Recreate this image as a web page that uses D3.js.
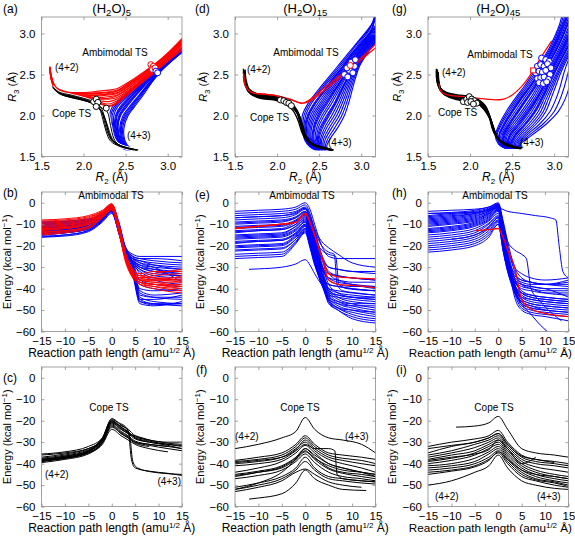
<!DOCTYPE html>
<html><head><meta charset="utf-8">
<script src="https://cdn.jsdelivr.net/npm/d3@7"></script>
<style>body{margin:0;background:#fff} svg{display:block} text{font-family:"Liberation Sans",Arial,sans-serif;fill:#000}</style>
</head><body><svg id="c" width="575" height="536"></svg>
<script>
// ---------------- tick labels ----------------
const R_TICKS = [1.5, 2.0, 2.5, 3.0];
const PATH_TICKS = [-15, -10, -5, 0, 5, 10, 15];
const ENERGY_TICKS = [0, -10, -20, -30, -40, -50, -60];
const PANEL_LABELS = ["(a)", "(b)", "(c)", "(d)", "(e)", "(f)", "(g)", "(h)", "(i)"];
const CLUSTER_SIZES = ["5", "15", "45"];

// ---------------- (a) (H2O)5 : R3 vs R2 ----------------
const A_RED_R2 = [1.6, 1.62, 1.67, 1.8, 2.0, 2.2, 2.3, 2.4, 2.6, 2.85, 3.0, 3.2];
const A_RED_R3 = [
 [2.60,2.47,2.35,2.29,2.28,2.30,2.31,2.33,2.45,2.63,2.76,2.97],
 [2.59,2.46,2.34,2.28,2.27,2.28,2.29,2.31,2.43,2.62,2.75,2.95],
 [2.59,2.46,2.34,2.28,2.27,2.27,2.28,2.30,2.42,2.61,2.74,2.94],
 [2.58,2.45,2.34,2.28,2.26,2.26,2.26,2.28,2.41,2.60,2.73,2.93],
 [2.58,2.45,2.33,2.27,2.25,2.24,2.25,2.27,2.40,2.59,2.72,2.92],
 [2.57,2.44,2.33,2.27,2.24,2.22,2.23,2.25,2.38,2.58,2.71,2.91],
 [2.57,2.44,2.32,2.26,2.23,2.20,2.20,2.22,2.36,2.57,2.70,2.89],
 [2.56,2.43,2.32,2.26,2.22,2.18,2.17,2.20,2.35,2.56,2.69,2.88],
 [2.56,2.43,2.31,2.25,2.21,2.16,2.14,2.18,2.34,2.55,2.68,2.86],
 [2.55,2.42,2.31,2.25,2.20,2.15,2.12,2.16,2.33,2.54,2.67,2.84],
 [2.55,2.42,2.30,2.24,2.19,2.14,2.11,2.15,2.32,2.53,2.66,2.82],
 [2.58,2.45,2.33,2.27,2.25,2.25,2.27,2.30,2.44,2.62,2.76,2.96],
 [2.57,2.44,2.32,2.26,2.23,2.21,2.21,2.24,2.38,2.58,2.72,2.90]
];
const A_BLUE_R3 = [1.58, 1.62, 1.7, 1.85, 2.0, 2.1, 2.25, 2.4, 2.55, 2.7, 2.85, 3.0];
const A_BLUE_R2 = [
 [2.50,2.44,2.37,2.33,2.31,2.34,2.50,2.67,2.85,3.02,3.20,3.35],
 [2.51,2.445,2.38,2.34,2.325,2.36,2.515,2.68,2.855,3.025,3.205,3.355],
 [2.52,2.45,2.39,2.35,2.34,2.38,2.53,2.69,2.86,3.03,3.21,3.36],
 [2.53,2.46,2.40,2.36,2.36,2.40,2.55,2.70,2.86,3.03,3.21,3.36],
 [2.54,2.47,2.41,2.37,2.38,2.43,2.57,2.71,2.87,3.04,3.22,3.37],
 [2.545,2.475,2.415,2.38,2.39,2.445,2.58,2.72,2.875,3.045,3.225,3.375],
 [2.55,2.48,2.42,2.39,2.40,2.46,2.59,2.73,2.88,3.05,3.23,3.38],
 [2.56,2.49,2.43,2.40,2.42,2.48,2.61,2.74,2.89,3.06,3.24,3.39],
 [2.565,2.495,2.435,2.405,2.43,2.495,2.62,2.75,2.895,3.06,3.24,3.39],
 [2.57,2.50,2.44,2.41,2.44,2.51,2.63,2.76,2.90,3.06,3.24,3.39],
 [2.58,2.51,2.45,2.43,2.47,2.54,2.66,2.78,2.91,3.07,3.25,3.40],
 [2.59,2.515,2.46,2.44,2.485,2.555,2.67,2.785,2.915,3.075,3.255,3.405],
 [2.60,2.52,2.47,2.45,2.50,2.57,2.68,2.79,2.92,3.08,3.26,3.41],
 [2.61,2.53,2.48,2.465,2.515,2.585,2.695,2.80,2.925,3.085,3.265,3.415],
 [2.62,2.54,2.49,2.48,2.53,2.60,2.71,2.81,2.93,3.09,3.27,3.42]
];
const A_BLACK = [
 [[1.63,2.36],[1.70,2.29],[1.85,2.25],[2.00,2.21],[2.12,2.17],[2.20,2.11],[2.25,1.98],[2.29,1.82],[2.34,1.70],[2.45,1.63],[2.62,1.58]],
 [[1.63,2.35],[1.70,2.28],[1.85,2.24],[2.00,2.20],[2.12,2.15],[2.19,2.08],[2.23,1.95],[2.27,1.80],[2.32,1.69],[2.44,1.62],[2.60,1.58]],
 [[1.64,2.34],[1.72,2.27],[1.87,2.23],[2.02,2.19],[2.14,2.14],[2.21,2.06],[2.25,1.92],[2.29,1.78],[2.35,1.68],[2.47,1.62],[2.63,1.58]],
 [[1.64,2.33],[1.72,2.26],[1.88,2.22],[2.03,2.18],[2.15,2.12],[2.22,2.04],[2.27,1.90],[2.31,1.76],[2.37,1.67],[2.48,1.61],[2.64,1.58]],
 [[1.65,2.32],[1.75,2.25],[1.90,2.21],[2.05,2.17],[2.17,2.10],[2.24,2.00],[2.29,1.86],[2.33,1.74],[2.39,1.66],[2.50,1.61],[2.64,1.58]],
 [[1.66,2.31],[1.78,2.24],[1.93,2.20],[2.08,2.16],[2.20,2.10],[2.28,2.05],[2.32,1.88],[2.36,1.72],[2.41,1.65],[2.52,1.61],[2.65,1.58]]
];
const A_COPE_R2 = [2.12, 2.15, 2.17, 2.15, 2.27];
const A_COPE_R3 = [2.17, 2.20, 2.16, 2.11, 2.09];
const A_AMB_RED_R2 = [2.80, 2.83, 2.82, 2.85];
const A_AMB_RED_R3 = [2.62, 2.60, 2.56, 2.58];
const A_AMB_BLUE_R2 = [2.86, 2.88];
const A_AMB_BLUE_R3 = [2.54, 2.52];

// ---------------- (d) (H2O)15 : R3 vs R2 ----------------
const D_BLACK = [
 [[1.60,2.57],[1.61,2.45],[1.65,2.33],[1.75,2.27],[1.90,2.25],[2.05,2.21],[2.15,2.16],[2.22,2.08],[2.27,1.93],[2.31,1.79],[2.37,1.69],[2.49,1.62],[2.64,1.58]],
 [[1.61,2.55],[1.62,2.43],[1.66,2.31],[1.76,2.25],[1.91,2.23],[2.06,2.19],[2.16,2.14],[2.23,2.06],[2.28,1.91],[2.32,1.77],[2.38,1.68],[2.50,1.62],[2.65,1.58]],
 [[1.60,2.53],[1.62,2.41],[1.67,2.30],[1.78,2.24],[1.93,2.22],[2.08,2.18],[2.18,2.12],[2.25,2.03],[2.30,1.88],[2.34,1.75],[2.40,1.67],[2.52,1.61],[2.66,1.58]],
 [[1.62,2.52],[1.63,2.40],[1.68,2.29],[1.80,2.23],[1.95,2.21],[2.10,2.17],[2.19,2.11],[2.26,2.01],[2.31,1.86],[2.35,1.73],[2.41,1.66],[2.53,1.61],[2.66,1.58]],
 [[1.61,2.50],[1.63,2.38],[1.69,2.28],[1.82,2.22],[1.97,2.20],[2.11,2.15],[2.20,2.08],[2.27,1.97],[2.31,1.83],[2.36,1.72],[2.43,1.65],[2.55,1.61],[2.67,1.58]],
 [[1.60,2.48],[1.62,2.37],[1.68,2.27],[1.80,2.21],[1.96,2.19],[2.10,2.14],[2.19,2.06],[2.25,1.94],[2.29,1.81],[2.34,1.71],[2.42,1.64],[2.54,1.60],[2.67,1.58]],
 [[1.62,2.56],[1.63,2.44],[1.67,2.32],[1.77,2.26],[1.92,2.24],[2.07,2.20],[2.17,2.15],[2.24,2.06],[2.29,1.90],[2.33,1.76],[2.39,1.67],[2.51,1.62],[2.65,1.59]],
 [[1.61,2.52],[1.62,2.40],[1.66,2.29],[1.79,2.22],[1.94,2.20],[2.09,2.16],[2.19,2.10],[2.26,1.99],[2.30,1.85],[2.35,1.74],[2.41,1.66],[2.53,1.61],[2.66,1.58]]
];
const D_RED = [
 [[1.60,2.52],[1.63,2.35],[1.70,2.28],[1.85,2.26],[2.00,2.24],[2.15,2.20],[2.30,2.15],[2.40,2.18],[2.55,2.30],[2.70,2.42],[2.85,2.55],[3.00,2.68],[3.20,2.85]],
 [[1.60,2.52],[1.63,2.35],[1.70,2.28],[1.85,2.26],[2.00,2.24],[2.15,2.20],[2.30,2.15],[2.40,2.20],[2.55,2.33],[2.70,2.45],[2.88,2.60],[3.05,2.75],[3.20,2.90]]
];
const D_BLUE_R3 = [1.58, 1.62, 1.7, 1.85, 2.0, 2.15, 2.3, 2.45, 2.6, 2.75, 2.9, 3.05, 3.25];
const D_BLUE_R2 = [
 [2.46,2.39,2.33,2.30,2.30,2.37,2.48,2.60,2.72,2.84,2.96,3.08,3.22],
 [2.47,2.40,2.34,2.31,2.32,2.39,2.50,2.62,2.74,2.86,2.97,3.09,3.20],
 [2.48,2.41,2.35,2.32,2.34,2.41,2.52,2.64,2.76,2.88,2.99,3.10,3.17],
 [2.49,2.42,2.36,2.33,2.36,2.44,2.55,2.66,2.78,2.89,3.01,3.12,3.17],
 [2.495,2.425,2.365,2.34,2.37,2.45,2.56,2.67,2.785,2.895,3.015,3.125,3.17],
 [2.50,2.43,2.37,2.35,2.38,2.46,2.57,2.68,2.79,2.90,3.02,3.13,3.17],
 [2.505,2.435,2.38,2.365,2.40,2.485,2.59,2.695,2.805,2.915,3.03,3.14,3.25],
 [2.51,2.44,2.39,2.38,2.42,2.51,2.61,2.71,2.82,2.93,3.04,3.15,3.30],
 [2.515,2.45,2.40,2.395,2.44,2.53,2.63,2.73,2.835,2.94,3.05,3.16,3.28],
 [2.52,2.46,2.41,2.41,2.46,2.55,2.65,2.75,2.85,2.95,3.06,3.17,3.17],
 [2.53,2.47,2.42,2.43,2.48,2.57,2.67,2.77,2.86,2.96,3.07,3.18,3.30],
 [2.535,2.475,2.43,2.44,2.495,2.585,2.68,2.775,2.865,2.965,3.075,3.185,3.33],
 [2.54,2.48,2.44,2.45,2.51,2.60,2.69,2.78,2.87,2.97,3.08,3.19,3.35],
 [2.545,2.49,2.455,2.47,2.535,2.625,2.71,2.795,2.885,2.98,3.09,3.20,3.35],
 [2.55,2.50,2.47,2.49,2.56,2.65,2.73,2.81,2.90,2.99,3.10,3.21,3.35],
 [2.56,2.51,2.48,2.51,2.59,2.68,2.75,2.83,2.91,3.00,3.11,3.22,3.36],
 [2.565,2.515,2.49,2.525,2.605,2.69,2.76,2.835,2.915,3.005,3.115,3.225,3.37],
 [2.57,2.52,2.50,2.54,2.62,2.70,2.77,2.84,2.92,3.01,3.12,3.23,3.38],
 [2.575,2.53,2.515,2.565,2.65,2.725,2.79,2.855,2.93,3.02,3.13,3.24,3.39],
 [2.58,2.54,2.53,2.59,2.68,2.75,2.81,2.87,2.94,3.03,3.14,3.25,3.40],
 [2.59,2.55,2.55,2.62,2.71,2.775,2.83,2.885,2.95,3.04,3.15,3.26,3.41],
 [2.60,2.56,2.57,2.65,2.74,2.80,2.85,2.90,2.96,3.05,3.16,3.27,3.42],
 [2.61,2.575,2.595,2.685,2.77,2.825,2.87,2.915,2.97,3.06,3.17,3.28,3.43],
 [2.62,2.59,2.62,2.72,2.80,2.85,2.89,2.93,2.98,3.07,3.18,3.29,3.44]
];
const D_COPE_R2 = [2.04, 2.08, 2.11, 2.14, 2.17];
const D_COPE_R3 = [2.19, 2.18, 2.16, 2.15, 2.12];
const D_AMB_BLUE_R2 = [2.80, 2.84, 2.86, 2.90, 2.92, 2.83, 2.88, 2.93];
const D_AMB_BLUE_R3 = [2.50, 2.47, 2.55, 2.52, 2.60, 2.58, 2.65, 2.68];
const D_AMB_RED_R2 = [2.87];
const D_AMB_RED_R3 = [2.61];

// ---------------- (g) (H2O)45 : R3 vs R2 ----------------
const G_BLACK = [
 [[1.60,2.57],[1.61,2.45],[1.64,2.34],[1.72,2.28],[1.85,2.25],[2.00,2.23],[2.10,2.19],[2.18,2.12],[2.23,1.98],[2.27,1.83],[2.33,1.72],[2.44,1.65],[2.58,1.61]],
 [[1.61,2.56],[1.62,2.44],[1.65,2.33],[1.73,2.27],[1.86,2.24],[2.01,2.22],[2.11,2.18],[2.19,2.10],[2.24,1.96],[2.28,1.81],[2.34,1.71],[2.45,1.64],[2.58,1.60]],
 [[1.60,2.54],[1.61,2.42],[1.65,2.31],[1.74,2.26],[1.87,2.23],[2.02,2.21],[2.12,2.16],[2.20,2.07],[2.25,1.93],[2.29,1.79],[2.35,1.70],[2.46,1.64],[2.59,1.60]],
 [[1.62,2.53],[1.63,2.41],[1.66,2.30],[1.75,2.25],[1.88,2.22],[2.03,2.20],[2.13,2.15],[2.21,2.05],[2.26,1.90],[2.30,1.77],[2.36,1.69],[2.47,1.63],[2.59,1.60]],
 [[1.61,2.51],[1.62,2.39],[1.66,2.29],[1.76,2.24],[1.89,2.21],[2.04,2.19],[2.14,2.13],[2.22,2.02],[2.27,1.87],[2.31,1.75],[2.37,1.68],[2.48,1.63],[2.60,1.60]],
 [[1.60,2.49],[1.62,2.37],[1.67,2.28],[1.77,2.23],[1.90,2.20],[2.05,2.18],[2.15,2.11],[2.23,1.99],[2.28,1.84],[2.32,1.73],[2.38,1.67],[2.49,1.62],[2.60,1.60]],
 [[1.62,2.48],[1.63,2.36],[1.68,2.27],[1.78,2.22],[1.91,2.19],[2.06,2.17],[2.16,2.09],[2.24,1.96],[2.29,1.81],[2.33,1.72],[2.39,1.66],[2.50,1.62],[2.61,1.60]],
 [[1.61,2.46],[1.63,2.35],[1.69,2.26],[1.79,2.21],[1.92,2.18],[2.07,2.16],[2.17,2.07],[2.25,1.93],[2.30,1.79],[2.34,1.71],[2.40,1.65],[2.51,1.62],[2.61,1.60]]
];
const G_RED = [
 [[1.63,2.39],[1.65,2.30],[1.70,2.26],[1.80,2.24],[1.95,2.23],[2.10,2.21],[2.20,2.20],[2.30,2.19],[2.40,2.20],[2.50,2.25],[2.60,2.34],[2.68,2.44],[2.75,2.55],[2.85,2.72],[2.97,2.91]]
];
const G_BLUE_R3 = [1.6, 1.65, 1.75, 1.9, 2.05, 2.2, 2.35, 2.5, 2.65, 2.8, 2.95, 3.1, 3.25];
const G_BLUE_R2 = [
 [2.42,2.34,2.30,2.35,2.43,2.53,2.64,2.74,2.84,2.93,3.00,3.06,3.10],
 [2.43,2.35,2.31,2.365,2.45,2.55,2.66,2.76,2.855,2.945,3.015,3.075,3.12],
 [2.44,2.36,2.32,2.38,2.47,2.57,2.68,2.78,2.87,2.96,3.03,3.09,3.14],
 [2.45,2.37,2.34,2.40,2.49,2.59,2.70,2.80,2.89,2.97,3.04,3.10,3.16],
 [2.455,2.375,2.345,2.41,2.50,2.60,2.71,2.81,2.90,2.98,3.05,3.11,3.17],
 [2.46,2.38,2.35,2.42,2.51,2.61,2.72,2.82,2.91,2.99,3.06,3.12,3.18],
 [2.47,2.39,2.365,2.44,2.535,2.635,2.74,2.835,2.925,3.005,3.075,3.135,3.195],
 [2.48,2.40,2.38,2.46,2.56,2.66,2.76,2.85,2.94,3.02,3.09,3.15,3.21],
 [2.485,2.405,2.39,2.47,2.57,2.67,2.77,2.86,2.945,3.025,3.095,3.155,3.215],
 [2.49,2.41,2.40,2.48,2.58,2.68,2.78,2.87,2.95,3.03,3.10,3.16,3.22],
 [2.50,2.42,2.41,2.50,2.61,2.71,2.80,2.89,2.97,3.05,3.12,3.18,3.24],
 [2.505,2.43,2.425,2.525,2.635,2.735,2.82,2.905,2.985,3.065,3.135,3.195,3.255],
 [2.51,2.44,2.44,2.55,2.66,2.76,2.84,2.92,3.00,3.08,3.15,3.21,3.27],
 [2.52,2.45,2.46,2.57,2.68,2.78,2.86,2.93,3.01,3.09,3.16,3.22,3.28],
 [2.525,2.455,2.47,2.585,2.695,2.79,2.87,2.94,3.02,3.10,3.17,3.23,3.29],
 [2.53,2.46,2.48,2.60,2.71,2.80,2.88,2.95,3.03,3.11,3.18,3.24,3.30],
 [2.535,2.47,2.50,2.625,2.735,2.82,2.895,2.965,3.045,3.125,3.195,3.255,3.315],
 [2.54,2.48,2.52,2.65,2.76,2.84,2.91,2.98,3.06,3.14,3.21,3.27,3.33],
 [2.545,2.49,2.53,2.66,2.77,2.85,2.92,2.99,3.065,3.145,3.215,3.275,3.335],
 [2.55,2.50,2.54,2.67,2.78,2.86,2.93,3.00,3.07,3.15,3.22,3.28,3.34],
 [2.56,2.51,2.56,2.70,2.81,2.88,2.95,3.02,3.09,3.17,3.24,3.30,3.36],
 [2.57,2.525,2.585,2.73,2.84,2.905,2.97,3.035,3.105,3.185,3.255,3.315,3.375],
 [2.58,2.54,2.61,2.76,2.87,2.93,2.99,3.05,3.12,3.20,3.27,3.33,3.39],
 [2.59,2.555,2.635,2.79,2.90,2.96,3.015,3.07,3.135,3.215,3.285,3.345,3.405],
 [2.60,2.57,2.66,2.83,2.95,3.02,3.07,3.11,3.16,3.23,3.30,3.36,3.42],
 [2.61,2.585,2.69,2.87,3.00,3.07,3.12,3.16,3.20,3.26,3.32,3.38,3.43],
 [2.62,2.60,2.72,2.91,3.05,3.13,3.18,3.22,3.25,3.29,3.34,3.40,3.44]
];
const G_COPE_R2 = [1.92, 1.96, 1.99, 2.02, 2.05, 2.08, 1.97, 2.01, 2.04];
const G_COPE_R3 = [2.17, 2.20, 2.23, 2.20, 2.18, 2.15, 2.16, 2.17, 2.14];
const G_AMB_BLUE_R2 = [2.85,2.90,2.94,2.80,2.84,2.88,2.92,2.96,2.78,2.82,2.86,2.90,2.95,2.80,2.84,2.88,2.93,2.82,2.87,2.91];
const G_AMB_BLUE_R3 = [2.70,2.68,2.66,2.60,2.62,2.60,2.63,2.58,2.52,2.54,2.53,2.55,2.50,2.45,2.46,2.47,2.44,2.40,2.39,2.41];
const G_AMB_RED_R2 = [2.75];
const G_AMB_RED_R3 = [2.55];

// ---------------- (b) energies, (H2O)5 ----------------
const B_X = [-15, -10, -5, -2, 0, 1.5, 3, 4.5, 6, 9, 15];
const B_BLUE = [
 [-9,-8.5,-7.5,-5,-1,-9,-21,-24,-25,-25,-25],
 [-10,-9.5,-8,-5.5,-2,-10,-22,-25,-26,-27,-28],
 [-11,-10.5,-9,-6,-2.5,-11,-22,-26,-28,-29,-30],
 [-12,-11,-9.5,-6.5,-3,-12,-23,-27,-29,-30,-31],
 [-13,-12,-10,-7,-3,-12,-23,-27,-30,-31,-32],
 [-14,-13,-11,-7.5,-3.5,-13,-24,-28,-31,-33,-34],
 [-15,-14,-12,-8,-4,-13,-24,-28,-31,-34,-35],
 [-16,-15,-13,-8.5,-4.5,-14,-25,-29,-32,-35,-36],
 [-12.5,-12,-10.5,-7,-3,-12,-22,-26,-30,-32,-33],
 [-10.5,-10,-8.5,-5.5,-2,-11,-21,-25,-28,-30,-37],
 [-9.5,-9,-8,-5,-1.5,-9,-22,-28,-42,-44,-45],
 [-11,-10.5,-9,-6,-2,-10,-23,-30,-44,-46,-47],
 [-12,-11.5,-10,-6.5,-2.5,-11,-24,-31,-45,-47,-47],
 [-13.5,-13,-11,-7,-3,-12,-24,-32,-46,-47,-48],
 [-14.5,-14,-12,-8,-3.5,-13,-25,-33,-46,-47.5,-47],
 [-15.5,-15,-13,-8.5,-4,-14,-26,-34,-47,-48,-46],
 [-10,-9.5,-8.5,-5.5,-2,-10,-23,-29,-41,-43,-42],
 [-12,-11.5,-10,-6.5,-3,-12,-24,-31,-40,-41,-40],
 [-13,-12.5,-11,-7,-3,-12,-25,-30,-43,-44,-44],
 [-14,-13.5,-12,-7.5,-3.5,-13,-25,-32,-38,-40,-41],
 [-15,-14,-12.5,-8,-4,-14,-26,-33,-45,-45,-43],
 [-11.5,-11,-9.5,-6,-2.5,-11,-23,-28,-36,-38,-39],
 [-9,-8.8,-7.8,-5,-1.5,-10,-21,-25,-26,-26,-27],
 [-13,-12.5,-10.5,-7,-3.5,-13,-23,-26,-27,-28,-29],
 [-14.5,-13.5,-11.5,-7.5,-4,-13,-24,-27,-29,-31,-33],
 [-16,-15.5,-13.5,-9,-5,-14,-25,-28,-30,-32,-34],
 [-10,-9.5,-8.5,-6,-2.5,-11,-22,-26,-27,-29,-31],
 [-12,-11,-9,-6,-2,-11,-22,-27,-33,-36,-38]
];
const B_RED = [
 [-8,-7.5,-6,-3.5,-0.5,-10,-24,-31,-34,-33,-31],
 [-9,-8.5,-7,-4,-1,-11,-25,-32,-35,-34,-33],
 [-10,-9.5,-8,-4.5,-1.5,-11,-25,-32,-35,-35,-35],
 [-11,-10.5,-8.5,-5,-2,-12,-26,-33,-36,-36,-36],
 [-12,-11.5,-9.5,-5.5,-2,-12,-26,-33,-36,-37,-37],
 [-13,-12,-10,-6,-2.5,-13,-27,-34,-37,-38,-38],
 [-14,-13,-11,-6.5,-3,-13,-27,-34,-37,-38,-39],
 [-15,-14,-12,-7,-3.5,-14,-28,-35,-38,-39,-40],
 [-9.5,-9,-7.5,-4.5,-1,-10,-24,-31,-34,-35,-36],
 [-11.5,-11,-9,-5,-1.5,-11,-25,-33,-36,-37,-39],
 [-12.5,-12,-10,-6,-2,-12,-26,-34,-37,-39,-41],
 [-13.5,-13,-11,-6.5,-3,-13,-27,-35,-38,-40,-42],
 [-10.5,-10,-8.5,-5,-1.5,-11,-25,-32,-35,-36,-34],
 [-14.5,-13.5,-11.5,-7,-3,-13,-26,-33,-36,-36,-37],
 [-8.5,-8,-6.5,-4,-0.5,-10,-24,-31,-33,-32,-32],
 [-12,-11.5,-9.5,-5.5,-2,-12,-26,-34,-37,-38,-40]
];

// ---------------- (e) energies, (H2O)15 ----------------
const E_X = [-15, -10, -5, -2, 0, 1, 2, 3.5, 5, 7, 10, 15];
const E_BLUE = [
 [-4,-3.5,-3,-2,0,-3,-10,-20,-25,-26,-26,-26],
 [-6,-5.5,-5,-4,-2,-6,-13,-24,-30,-31,-32,-33],
 [-8,-7.5,-7,-5.5,-3,-8,-15,-26,-33,-36,-38,-40],
 [-9,-8.5,-8,-6.5,-4,-9,-16,-28,-38,-42,-44,-45],
 [-10,-9.5,-9,-7,-4.5,-10,-18,-30,-40,-44,-46,-47],
 [-11,-10.5,-10,-8,-5,-11,-19,-31,-41,-45,-47,-49],
 [-13,-12.5,-12,-9,-6,-12,-20,-32,-42,-46,-48,-50],
 [-14,-13,-12.5,-10,-7,-13,-21,-33,-43,-47,-49,-51],
 [-15,-14.5,-14,-11,-8,-14,-22,-34,-44,-48,-50,-52],
 [-16,-15.5,-15,-12,-8.5,-15,-23,-35,-45,-49,-52,-54],
 [-17,-16.5,-16,-13,-9,-15,-24,-36,-46,-50,-53,-55],
 [-18,-17.5,-17,-14,-10,-16,-25,-36,-47,-50,-54,-56],
 [-19,-18,-17.5,-14.5,-10.5,-17,-26,-37,-45,-47,-48,-48],
 [-20,-19.5,-19,-15,-11,-18,-26,-37,-44,-46,-47,-47],
 [-21,-20.5,-20,-16,-12,-18,-27,-38,-43,-44,-45,-46],
 [-22,-21.5,-21,-17,-12.5,-19,-28,-38,-42,-43,-44,-44],
 [-24,-23.5,-23,-18,-13,-20,-28,-37,-40,-41,-42,-43],
 [-26,-25.5,-25,-19,-14,-21,-29,-36,-38,-39,-40,-41],
 [-5,-4.5,-4,-3,-1,-5,-12,-18,-21,-24,-28,-30],
 [-15.5,-15,-14.5,-11,-7.5,-13,-19,-26,-30,-31,-32,-32],
 [-18.5,-18,-17.5,-14,-10,-16,-23,-30,-33,-34,-35,-36],
 [-20.5,-20,-19.5,-15.5,-11,-17,-24,-31,-35,-37,-38,-39],
 [-13.5,-13,-12.5,-10,-6.5,-12,-20,-33,-38,-39,-40,-41],
 [-16.5,-16,-15.5,-12.5,-9,-15,-22,-33,-40,-42,-43,-44],
 [-9.5,-9,-8.5,-7,-4,-9,-17,-29,-36,-38,-39,-39],
 [-22.5,-22,-21.5,-17,-12,-19,-27,-37,-45,-49,-51,-53],
 [-25,-24.5,-24,-18.5,-13.5,-20,-28,-38,-46,-49,-50,-51],
 [-7,-6.5,-6,-4.5,-2.5,-7,-14,-25,-32,-34,-35,-36],
 [-11.5,-11,-10.5,-8.5,-5.5,-11,-18,-29,-35,-36,-37,-37]
];
const E_BLUE_EXTRA = [
 [[-15,-7],[-10,-6.5],[-5,-6],[-2,-5],[0,-2.5],[1,-7],[2,-13],[3.5,-20],[5,-23],[6.2,-24],[6.8,-38],[8,-41],[11,-42],[15,-43]],
 [[-15,-12],[-10,-11.5],[-5,-11],[-2,-8.5],[0,-5.5],[1,-11],[2,-17],[3.5,-22],[5,-24],[6.5,-25],[7.2,-38],[9,-40],[15,-41]],
 [[-12,-31],[-10,-30.8],[-5,-30],[-2,-28.5],[0,-26.5],[1,-29],[2,-33],[3.5,-38],[5,-41],[7,-43],[10,-44],[15,-45]]
];
const E_RED = [
 [-12,-11,-10,-9,-5,-9,-15,-25,-33,-34.5,-35,-35.5],
 [-12,-11,-10,-9,-5,-9,-15,-25,-36,-38,-38.5,-39.5]
];

// ---------------- (h) energies, (H2O)45 ----------------
const H_X = [-15, -10, -5, -2, 0, 1, 2, 3.5, 5, 7, 10, 15];
const H_BLUE = [
 [-4,-3.5,-3,-2,0,-8,-18,-30,-35,-37,-38,-39],
 [-5,-4.5,-3.5,-2,-0.5,-9,-20,-32,-38,-40,-42,-43],
 [-6,-5,-4,-2.5,-0.5,-10,-22,-35,-42,-44,-45,-46],
 [-7,-6,-5,-3,-1,-11,-24,-38,-45,-47,-48,-49],
 [-8,-7,-5.5,-3.5,-1,-12,-25,-40,-47,-49,-50,-51],
 [-9,-8,-6.5,-4,-1.5,-13,-26,-42,-49,-51,-52,-53],
 [-10,-9,-7.5,-5,-2,-14,-27,-44,-50,-52,-53,-55],
 [-11,-10,-8.5,-5.5,-2.5,-14,-26,-38,-42,-44,-45,-46],
 [-12,-11,-9,-6,-3,-15,-27,-37,-40,-41,-42,-42],
 [-13,-12,-10,-7,-3.5,-15,-28,-36,-38,-39,-40,-40],
 [-14,-13,-11,-8,-4,-16,-28,-35,-37,-38,-38,-38],
 [-15,-14,-12,-8.5,-5,-17,-29,-38,-44,-46,-47,-48],
 [-16,-15,-13,-9.5,-6,-18,-30,-40,-46,-48,-49,-50],
 [-17,-16,-14,-10,-6.5,-18,-29,-39,-43,-45,-46,-47],
 [-18,-17,-15,-11,-7,-19,-30,-41,-48,-50,-51,-52],
 [-19,-18,-16,-12,-8,-20,-30,-37,-39,-40,-41,-41],
 [-20,-19,-17,-13,-8.5,-20,-30,-36,-38,-39,-40,-44],
 [-21,-20,-18,-14,-9,-21,-31,-39,-42,-43,-44,-45],
 [-22,-21,-19,-15,-10,-22,-32,-42,-47,-49,-50,-51],
 [-23,-22,-20,-16,-10,-22,-32,-40,-44,-45,-46,-47],
 [-6.5,-5.5,-4.5,-3,-1,-10,-21,-30,-33,-35,-36,-35],
 [-10.5,-9.5,-8,-5,-2,-13,-25,-33,-36,-37,-38,-36],
 [-13.5,-12.5,-10.5,-7.5,-3.5,-15,-27,-39,-45,-47,-48,-49],
 [-8.5,-7.5,-6,-4,-1.5,-12,-24,-36,-41,-43,-44,-45],
 [null,-17,-15,-11.5,-7,-18,-28,-34,-36,-37,-38,-37],
 [-12.5,-11.5,-9.5,-6.5,-3,-14,-26,-41,-46,-48,-50,null]
];
const H_BLUE_EXTRA = [
 [[-15,-5],[-10,-4.8],[-5,-4.5],[-2,-3.5],[0,-2.5],[2,-4],[5,-5],[8,-6],[11,-7],[12.3,-8],[13,-20],[13.8,-32],[15,-35]],
 [[-15,-9.5],[-10,-8.5],[-5,-7],[-2,-4.5],[0,-1.5],[1,-12],[2,-25],[3.5,-40],[5,-47],[7,-52],[9,-57],[10.5,-60]],
 [[-15,-7.5],[-10,-6.5],[-5,-5],[-2,-3],[0,-1],[1,-10],[2,-18],[3.5,-22],[5,-24],[6,-26],[7,-40],[9,-46],[13.5,-55]]
];
const H_RED = [
 [null,null,-13,-12.5,-12,-16,-22,-30,-45,-49.5,-51.5,-53]
];

// ---------------- (c) energies, (H2O)5, Cope TS ----------------
const C_X = [-15, -10, -5, -2, 0, 2, 3.5, 5, 8, 12, 15];
const C_BLACK = [
 [-35.5,-34.5,-32,-28,-19,-22,-24,-27,-29,-30,-30],
 [-37,-35.5,-33,-28.5,-20,-23,-25,-28,-29.5,-31,-31.5],
 [-38,-36.5,-34,-29,-21,-24,-26,-28.5,-30,-31,-32],
 [-38.5,-37,-34.5,-29.5,-21.5,-25,-27,-29.5,-31,-32,-33],
 [-39,-37.5,-35,-30,-22,-25.5,-27.5,-30,-31.5,-33,-34],
 [-39.5,-38,-35.5,-30.5,-23,-26,-28,-30.5,-32,null,null],
 [-38,-36.5,-34,-29,-21,-24,-26,-27,-29,null,null],
 [-39,-37,-35,-31,-24,-27,-29,-31,-33,-34.5,null],
 [-37.5,-36,-33.5,-29,-20.5,-23.5,-25.5,-28,-30,-31.5,-33],
 [-38.5,-37.5,-35,-30,-22.5,-26,-28,-30,-31,-32,null],
 [-36,-35,-33,-28.5,-20,-23,-25.5,-27.5,-29,-30.5,-31]
];
const C_BLACK_EXTRA = [
 [[-15,-38],[-10,-37],[-5,-34],[-2,-28],[0,-19.5],[1.5,-21],[3,-23],[3.6,-26],[4.2,-38],[5,-42],[8,-43.5],[12,-44.5],[15,-45.5]],
 [[-15,-38.5],[-10,-37.5],[-5,-34.5],[-2,-28.5],[0,-20.5],[1.5,-22],[3.3,-24],[3.9,-28],[4.5,-39],[5.5,-42],[9,-44],[15,-45]]
];

// ---------------- (f) energies, (H2O)15, Cope TS ----------------
const F_X = [-15, -10, -5, -2, 0, 2, 5, 8, 12, 15];
const F_BLACK = [
 [-33,-31,-28,-25,-18.5,-24,-28,-29,-31,-35],
 [-38.5,-37,-35,-31,-27,-31,-35,-36,-37,-38],
 [-39,-38,-36,-32,-28,-32,-36,-37.5,-38.5,-40],
 [-40,-39,-37,-33,-30,-34,-38,-40,-42,-44],
 [-44,-42,-39,-35,-31.5,-35,-40,-42,-44,-45],
 [-45,-43.5,-41,-37,-33,-37,-42,-44,-45,-46],
 [-46,-44,-41.5,-37.5,-34,-38,-42.5,-44.5,-46,-47],
 [-47,-45.5,-43,-39,-35.5,-39.5,-44,-46,-47,-48],
 [-51,-49,-46,-42,-37,-42,-46,-47,-48,-48.5],
 [-52,-50,-47,-43,-39,-43,-47,-48,-49,-49.5],
 [-53,-51,-48,-44,-42.5,-45,-48.5,-50,-51,null],
 [-45.5,-44,-42,-38,-34.5,-37.5,-41,-43,-44,-45],
 [-39.5,-38.5,-37,-33.5,-29,-33,-37,-38.5,-40,-41],
 [-52,-49,-44,-38,-33,-36,-40,-42,-44,-46]
];
const F_BLACK_EXTRA = [
 [[-12,-56.5],[-10,-56],[-5,-54],[-2,-49],[0,-43],[2,-47],[5,-50],[8,-52],[13,-52.5]],
 [[-15,-41],[-10,-40],[-5,-38],[-2,-34],[0,-31],[2,-33],[5,-33],[6.3,-34],[6.8,-45],[8,-47],[12,-48],[15,-48.5]]
];

// ---------------- (i) energies, (H2O)45, Cope TS ----------------
const I_X = [-15, -10, -5, -2, 0, 2, 5, 8, 12, 15];
const I_BLACK = [
 [-32,-30,-28.5,-27,-24.5,-30,-36,-38,-39,-40],
 [-35,-32,-30,-28,-26,-31,-37,-39,-40,-41],
 [-36,-34,-31,-29,-27,-32,-38,-40,-41,-42],
 [-37,-35,-32.5,-30,-28,-33,-39,-41.5,-43,-44],
 [-38,-36,-34,-31,-29,-34,-40,-43,-45,-46],
 [-39,-37.5,-35,-32,-30,-35,-41,-44,-46,-47],
 [-40,-38.5,-36,-33,-31,-36,-42,-45,-47,-48],
 [-41,-40,-37.5,-34.5,-32,-37,-43,-46,-48,-49],
 [-42,-41,-39,-35.5,-33,-38,-44,-47,-48.5,-50],
 [-43,-42,-40,-37,-34,-39,-45,-47.5,-49,-50.5],
 [-44,-43,-41,-38,-35,-40,-46,-48,-50,-51],
 [-50,-48,-44,-41,-36,-42,-48,-50,-51.5,-52],
 [-38.5,-37,-35.5,-33.5,-29,-33,-40,-37,null,null],
 [-45,-43.5,-41.5,-38.5,-34.5,-38,-43,-45,-46,-47],
 [-33,-31.5,-30,-28,-26,-31,-36.5,-38,-39.5,null]
];
const I_BLACK_EXTRA = [
 [[-9,-23],[-5,-22.5],[-2,-21],[0,-18],[2,-24],[5,-33],[8,-35],[12,-36],[15,-37]]
];

// ---------------- layout ----------------
const svg = d3.select("#c");
const COL_X = [41.5, 235, 428];
const PW = 140.5;
const ROW_Y = [[17, 156.6], [192, 331.6], [367, 506.6]];
const TICK_FS = 11.5, XT_FS = 12, YT_FS = 11, ANN_FS = 10;

function addRich(sel, parts, subSize) {
  let shift = 0;
  parts.forEach(([t, m]) => {
    const ts = sel.append("tspan").text(t);
    let target = 0;
    if (m === "sub") { target = 3; ts.attr("font-size", subSize || 8); }
    else if (m === "sup") { target = -4; ts.attr("font-size", subSize || 8); }
    if (m === "it") ts.attr("font-style", "italic");
    ts.attr("dy", target - shift);
    shift = target;
  });
}

function panel(col, row, xDom, yDom, xTicks, yTicks, fmt) {
  const x0 = COL_X[col], x1 = x0 + PW;
  const [y0, y1] = ROW_Y[row];
  const x = d3.scaleLinear().domain(xDom).range([x0, x1]);
  const y = d3.scaleLinear().domain(yDom).range([y1, y0]);
  const id = "clip" + col + row;
  svg.append("clipPath").attr("id", id).append("rect")
    .attr("x", x0).attr("y", y0).attr("width", x1 - x0).attr("height", y1 - y0);
  const g = svg.append("g");
  const plot = g.append("g").attr("clip-path", `url(#${id})`);
  const axCol = "#8a8a8a";
  const ax = (a, tr, labels) => {
    const gg = g.append("g").attr("transform", tr).call(a);
    gg.select(".domain").remove();
    gg.selectAll(".tick line").attr("stroke", axCol).attr("stroke-width", 0.8);
    gg.selectAll(".tick text").attr("font-size", TICK_FS).attr("font-family", "Liberation Sans, Arial, sans-serif").attr("fill", "#000");
    if (!labels) gg.selectAll(".tick text").remove();
  };
  ax(d3.axisBottom(x).tickValues(xTicks).tickSize(-3).tickPadding(5).tickFormat(fmt), `translate(0,${y1})`, true);
  ax(d3.axisTop(x).tickValues(xTicks).tickSize(-3), `translate(0,${y0})`, false);
  ax(d3.axisLeft(y).tickValues(yTicks).tickSize(-3).tickPadding(6).tickFormat(fmt), `translate(${x0},0)`, true);
  ax(d3.axisRight(y).tickValues(yTicks).tickSize(-3), `translate(${x1},0)`, false);
  g.append("rect").attr("x", x0).attr("y", y0).attr("width", x1 - x0).attr("height", y1 - y0)
    .attr("fill", "none").attr("stroke", axCol).attr("stroke-width", 0.8);
  return { x, y, plot, g, x0, x1, y0, y1 };
}

function drawPaths(p, lines, color, width, curve, halo) {
  const gen = d3.line().defined(d => d[0] != null && d[1] != null)
    .x(d => p.x(d[0])).y(d => p.y(d[1])).curve(curve);
  if (halo) {
    p.plot.append("g").selectAll("path").data(lines).join("path")
      .attr("d", gen).attr("fill", "none").attr("stroke", "#fff").attr("stroke-width", width + 1.6);
  }
  p.plot.append("g").selectAll("path").data(lines).join("path")
    .attr("d", gen).attr("fill", "none").attr("stroke", color).attr("stroke-width", width)
    .attr("stroke-linejoin", "round");
}
const byX = (knots, rows) => rows.map(r => knots.map((k, i) => [k, r[i]]));
const byY = (knots, rows) => rows.map(r => knots.map((k, i) => [r[i], k]));

function circles(p, xs, ys, color) {
  p.plot.append("g").selectAll("circle").data(xs.map((v, i) => [v, ys[i]])).join("circle")
    .attr("cx", d => p.x(d[0])).attr("cy", d => p.y(d[1])).attr("r", 3)
    .attr("fill", "#fff").attr("stroke", color).attr("stroke-width", 1);
}
function squares(p, xs, ys, color) {
  p.plot.append("g").selectAll("rect").data(xs.map((v, i) => [v, ys[i]])).join("rect")
    .attr("x", d => p.x(d[0]) - 2.5).attr("y", d => p.y(d[1]) - 2.5).attr("width", 5).attr("height", 5)
    .attr("fill", "#fff").attr("stroke", color).attr("stroke-width", 1);
}
function label(x, y, t, anchor) {
  svg.append("text").attr("x", x).attr("y", y).attr("font-size", ANN_FS)
    .attr("text-anchor", anchor || "start").text(t);
}

const BLUE = "#0000ff", RED = "#ff0000", BLACK = "#000";
const CR = d3.curveCatmullRom.alpha(0.5);
const MX = d3.curveMonotoneX;
const fmtR = d3.format(".1f");
const fmtE = d3.format("d");

// ---------- Row 1 ----------
const pa = panel(0, 0, [1.5, 3.17], [1.5, 3.2], R_TICKS, R_TICKS, fmtR);
drawPaths(pa, byY(A_BLUE_R3, A_BLUE_R2), BLUE, 1.1, CR);
drawPaths(pa, byX(A_RED_R2, A_RED_R3), RED, 1.1, CR);
drawPaths(pa, A_BLACK, BLACK, 1, CR, true);
circles(pa, A_COPE_R2, A_COPE_R3, BLACK);
circles(pa, A_AMB_RED_R2, A_AMB_RED_R3, RED);
circles(pa, A_AMB_BLUE_R2, A_AMB_BLUE_R3, BLUE);

const pd = panel(1, 0, [1.5, 3.17], [1.5, 3.2], R_TICKS, R_TICKS, fmtR);
drawPaths(pd, byY(D_BLUE_R3, D_BLUE_R2), BLUE, 1.1, CR);
drawPaths(pd, D_BLACK, BLACK, 1.4, CR);
drawPaths(pd, D_RED, RED, 1.2, CR);
circles(pd, D_COPE_R2, D_COPE_R3, BLACK);
circles(pd, D_AMB_BLUE_R2, D_AMB_BLUE_R3, BLUE);
circles(pd, D_AMB_RED_R2, D_AMB_RED_R3, RED);

const pg = panel(2, 0, [1.5, 3.17], [1.5, 3.2], R_TICKS, R_TICKS, fmtR);
drawPaths(pg, byY(G_BLUE_R3, G_BLUE_R2), BLUE, 1.1, CR);
drawPaths(pg, G_BLACK, BLACK, 1.6, CR);
drawPaths(pg, G_RED, RED, 1.2, CR);
circles(pg, G_COPE_R2, G_COPE_R3, BLACK);
circles(pg, G_AMB_BLUE_R2, G_AMB_BLUE_R3, BLUE);
squares(pg, G_AMB_RED_R2, G_AMB_RED_R3, RED);

// ---------- Row 2 ----------
const pb = panel(0, 1, [-15, 15], [-60, 5], PATH_TICKS, ENERGY_TICKS, fmtE);
drawPaths(pb, byX(B_X, B_BLUE), BLUE, 1, MX);
drawPaths(pb, byX(B_X, B_RED), RED, 1, MX);

const pe = panel(1, 1, [-15, 15], [-60, 5], PATH_TICKS, ENERGY_TICKS, fmtE);
drawPaths(pe, byX(E_X, E_BLUE).concat(E_BLUE_EXTRA), BLUE, 1, MX);
drawPaths(pe, byX(E_X, E_RED), RED, 1.3, MX);

const ph = panel(2, 1, [-15, 15], [-60, 5], PATH_TICKS, ENERGY_TICKS, fmtE);
drawPaths(ph, byX(H_X, H_BLUE).concat(H_BLUE_EXTRA), BLUE, 1, MX);
drawPaths(ph, byX(H_X, H_RED), RED, 1.3, MX);

// ---------- Row 3 ----------
const pc = panel(0, 2, [-15, 15], [-60, 5], PATH_TICKS, ENERGY_TICKS, fmtE);
drawPaths(pc, byX(C_X, C_BLACK).concat(C_BLACK_EXTRA), BLACK, 1, MX, true);

const pf = panel(1, 2, [-15, 15], [-60, 5], PATH_TICKS, ENERGY_TICKS, fmtE);
drawPaths(pf, byX(F_X, F_BLACK).concat(F_BLACK_EXTRA), BLACK, 1, MX, true);

const pi = panel(2, 2, [-15, 15], [-60, 5], PATH_TICKS, ENERGY_TICKS, fmtE);
drawPaths(pi, byX(I_X, I_BLACK).concat(I_BLACK_EXTRA), BLACK, 1, MX, true);

// ---------- axis titles ----------
const panelsGrid = [[pa, pd, pg], [pb, pe, ph], [pc, pf, pi]];
const XT_Y = [181, 357, 532];
const YT_X = [[16, 207, 401], [11, 204, 396], [11, 204, 396]];
for (let r = 0; r < 3; r++) for (let c = 0; c < 3; c++) {
  const p = panelsGrid[r][c];
  const cx = (p.x0 + p.x1) / 2, cy = (p.y0 + p.y1) / 2;
  const rightEdge = (r > 0 && c === 2);
  const xt = svg.append("text").attr("x", rightEdge ? 572 : cx).attr("y", XT_Y[r])
    .attr("font-size", rightEdge ? 11.7 : XT_FS).attr("text-anchor", rightEdge ? "end" : "middle");
  const yt = svg.append("text").attr("font-size", YT_FS).attr("text-anchor", "middle")
    .attr("transform", `translate(${YT_X[r][c]},${cy}) rotate(-90)`);
  if (r === 0) {
    addRich(xt, [["R", "it"], ["2", "sub"], [" (Å)", 0]]);
    addRich(yt, [["R", "it"], ["3", "sub"], [" (Å)", 0]]);
  } else {
    addRich(xt, [["Reaction path length (amu", 0], ["1/2", "sup"], [" Å)", 0]]);
    addRich(yt, [["Energy (kcal mol", 0], ["−1", "sup"], [")", 0]]);
  }
}

// ---------- panel labels & titles ----------
const PL_POS = [[3, 13], [3, 197], [3, 382], [195, 13], [195, 199], [196, 374], [392, 13], [392, 197], [396, 374]];
PANEL_LABELS.forEach((t, i) => {
  svg.append("text").attr("x", PL_POS[i][0]).attr("y", PL_POS[i][1]).attr("font-size", 12).text(t);
});
[pa, pd, pg].forEach((p, i) => {
  const t = svg.append("text").attr("x", (p.x0 + p.x1) / 2).attr("y", 13).attr("font-size", 13).attr("text-anchor", "middle");
  addRich(t, [["(H", 0], ["2", "sub"], ["O)", 0], [CLUSTER_SIZES[i], "sub"]], 9.5);
});

// ---------- annotations ----------
label(115, 56, "Ambimodal TS", "middle");
label(55, 71, "(4+2)");
label(52, 117, "Cope TS");
label(127, 139, "(4+3)");
label(306, 56, "Ambimodal TS", "middle");
label(247, 73, "(4+2)");
label(250, 121, "Cope TS");
label(328, 146, "(4+3)");
label(500, 58, "Ambimodal TS", "middle");
label(442, 76, "(4+2)");
label(438, 116, "Cope TS");
label(520, 146, "(4+3)");

label(111, 199, "Ambimodal TS", "middle");
label(302, 199, "Ambimodal TS", "middle");
label(495, 199, "Ambimodal TS", "middle");

label(109, 411, "Cope TS", "middle");
label(45, 478, "(4+2)");
label(181, 485, "(4+3)", "end");
label(300, 411, "Cope TS", "middle");
label(235, 440, "(4+2)");
label(345, 440, "(4+3)");
label(494, 411, "Cope TS", "middle");
label(435, 500, "(4+2)");
label(537, 500, "(4+3)");
</script></body></html>
